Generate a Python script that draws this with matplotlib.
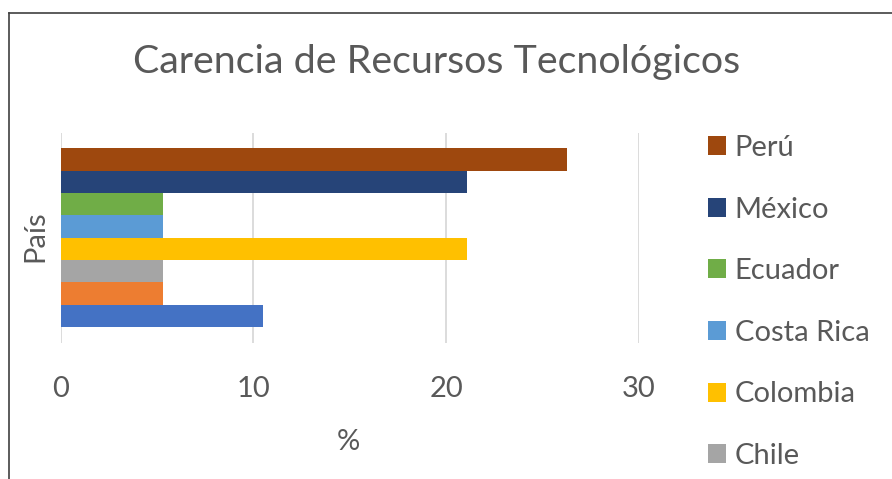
import matplotlib
matplotlib.use("Agg")
import matplotlib.pyplot as plt
from matplotlib.lines import Line2D

# countries listed bottom -> top, as Excel draws them
paises = ["Argentina", "Brasil", "Chile", "Colombia", "Costa Rica",
          "Ecuador", "México", "Perú"]
porcentaje = [10.5, 5.3, 5.3, 21.1, 5.3, 5.3, 21.1, 26.3]
colores = ["#4472C4", "#ED7D31", "#A5A5A5", "#FFC000", "#5B9BD5",
           "#70AD47", "#264478", "#9E480E"]
ticks_x = [0, 10, 20, 30]

# only these show in the (cropped) legend
en_leyenda = ["Perú", "México", "Ecuador", "Costa Rica", "Colombia", "Chile"]

GRIS = "#595959"
plt.rcParams["font.family"] = ["Lato", "DejaVu Sans"]

fig = plt.figure(figsize=(8.92, 4.79), dpi=100)
ax = fig.add_axes([0.068, 0.284, 0.648, 0.438])

barras = {}
for i, (p, v, c) in enumerate(zip(paises, porcentaje, colores)):
    barras[p] = ax.barh(i, v, height=1.0, color=c, zorder=3, label=p)

ax.set_xlim(0, 30)
ax.set_ylim(-1.21, 8.17)
ax.set_xticks(ticks_x)
ax.set_yticks([])
ax.grid(axis="x", color="#D9D9D9", lw=1.3, zorder=0)
for s in ax.spines.values():
    s.set_visible(False)
ax.tick_params(axis="x", length=0, pad=24, labelsize=21, labelcolor=GRIS)

ax.set_xlabel("%", fontsize=21, color=GRIS)
ax.xaxis.set_label_coords(0.497, -0.47)
ax.xaxis.label.set_va("center")
ax.set_ylabel("País", fontsize=21, color=GRIS)
ax.yaxis.set_label_coords(-0.044, 0.51)
ax.yaxis.label.set_va("center")

fig.text(437 / 892, 1 - 73 / 479, "Carencia de Recursos Tecnológicos",
         ha="center", va="baseline", fontsize=28.4, color=GRIS)

leg = fig.legend([barras[p] for p in en_leyenda], en_leyenda,
                 loc="upper left", bbox_to_anchor=(708 / 892, 1 - 135 / 479),
                 frameon=False, fontsize=21, labelcolor=GRIS,
                 handlelength=0.62, handleheight=0.62, handletextpad=0.3,
                 labelspacing=1.22, borderpad=0, borderaxespad=0)

# outer frame (left and top edges of the screenshot)
fig.add_artist(Line2D([9 / 892, 9 / 892], [0, 1 - 13 / 479],
                      transform=fig.transFigure, color="#404040", lw=1.2))
fig.add_artist(Line2D([9 / 892, 1], [1 - 13 / 479, 1 - 13 / 479],
                      transform=fig.transFigure, color="#404040", lw=1.2))

fig.savefig("out.png", dpi=100)
